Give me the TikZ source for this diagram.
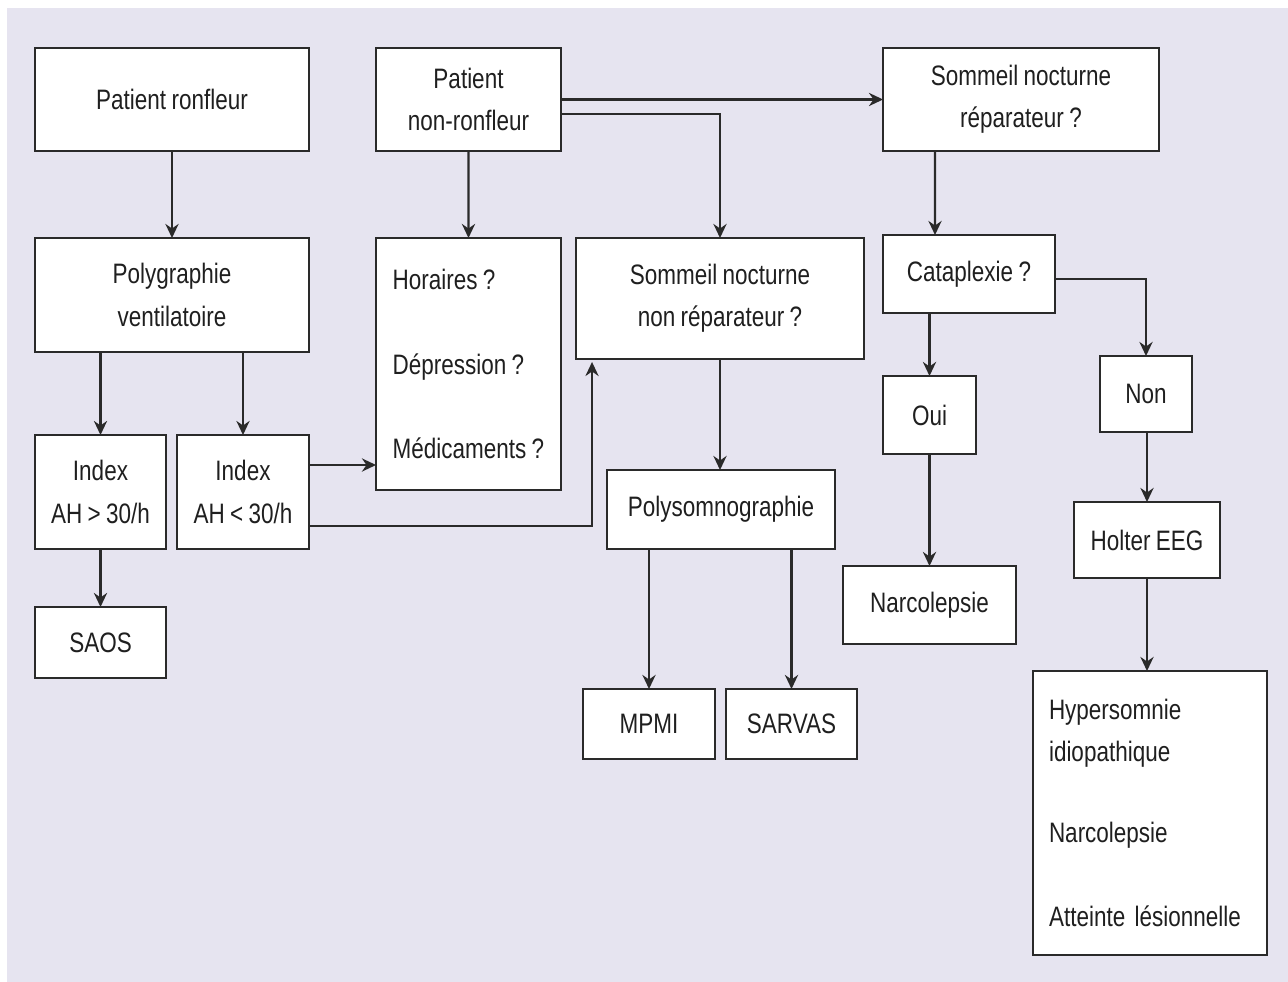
\documentclass[tikz,border=0pt]{standalone}
\usepackage{fontspec}
\setmainfont{Liberation Sans}[FakeStretch=0.8, WordSpace=0.85]
\usetikzlibrary{arrows.meta}
\definecolor{fond}{HTML}{E6E4F0}
\definecolor{trait}{HTML}{2A2A2A}
\tikzset{
  box/.style={draw=trait, line width=1.5pt, fill=white, inner sep=0pt, outer sep=0pt,
    align=center, text=black!88, font=\fontsize{16}{24}\selectfont},
  liste/.style={box, anchor=north west, align=left},
  arr/.style={draw=trait, line width=1.3pt, -{Stealth[length=8pt,width=7.5pt]}}
}
\begin{document}
\begin{tikzpicture}[x=0.02cm, y=-0.02cm]
          \useasboundingbox (0,0) rectangle (1288,982);
          \fill[white] (0,0) rectangle (1288,982);
          \fill[fond] (7,8) rectangle (1288,982);
          % colonne gauche
          \node [box, minimum width=5.48cm, minimum height=2.06cm] (ronf) at (172,99.5) {Patient ronfleur};
          \node [box, minimum width=5.48cm, minimum height=2.28cm] (poly) at (172,295) {Polygraphie\\ventilatoire};
          \node [box, minimum width=2.62cm, minimum height=2.28cm] (idxhi) at (100.5,492) {Index\\AH > 30/h};
          \node [box, minimum width=2.64cm, minimum height=2.28cm] (idxlo) at (243,492) {Index\\AH < 30/h};
          \node [box, minimum width=2.62cm, minimum height=1.42cm] (saos) at (100.5,642.5) {SAOS};
          % non-ronfleur
          \node [box, minimum width=3.70cm, minimum height=2.06cm] (nonronf) at (468.5,99.5) {Patient\\non-ronfleur};
          \node [liste, minimum width=3.70cm, minimum height=5.04cm] (horaires) at (376,238)
            {Horaires ?\\[24pt]Dépression ?\\[24pt]Médicaments ?};
          \node [box, minimum width=5.76cm, minimum height=2.42cm] (nonrep) at (720,298.5) {Sommeil nocturne\\non réparateur ?};
          \node [box, minimum width=4.56cm, minimum height=1.58cm] (psg) at (721,509.5) {Polysomnographie};
          \node [box, minimum width=2.64cm, minimum height=1.40cm] (mpmi) at (649,724) {MPMI};
          \node [box, minimum width=2.62cm, minimum height=1.40cm] (sarvas) at (791.5,724) {SARVAS};
          % sommeil reparateur
          \node [box, minimum width=5.52cm, minimum height=2.06cm] (rep) at (1021,99.5) {Sommeil nocturne\\réparateur ?};
          \node [box, minimum width=3.44cm, minimum height=1.56cm] (catap) at (969,274) {Cataplexie ?};
          \node [box, minimum width=1.86cm, minimum height=1.56cm] (oui) at (929.5,415) {Oui};
          \node [box, minimum width=3.46cm, minimum height=1.56cm] (narco) at (929.5,605) {Narcolepsie};
          \node [box, minimum width=1.84cm, minimum height=1.52cm] (non) at (1146,394) {Non};
          \node [box, minimum width=2.92cm, minimum height=1.52cm] (holter) at (1147,540) {Holter EEG};
          \node [liste, inner xsep=0.32cm, text width=4.04cm, minimum width=4.68cm, minimum height=5.68cm] (hyp) at (1033,671)
            {Hypersomnie\\idiopathique\\[22pt]Narcolepsie\\[24pt]Atteinte lésionnelle};
          % fleches
          \draw [arr] (ronf) -- (poly);
          \draw [arr] (poly.south -| idxhi.north) -- (idxhi.north);
          \draw [arr] (poly.south -| idxlo.north) -- (idxlo.north);
          \draw [arr] (idxhi) -- (saos);
          \draw [arr] ([yshift=0.54cm]idxlo.east) -- ([yshift=0.54cm]idxlo.east -| horaires.west);
          \draw [arr] ([yshift=-0.68cm]idxlo.east) -| ([xshift=0.32cm,yshift=-0.06cm]nonrep.south west);
          \draw [arr] (nonronf) -- (horaires);
          \draw [arr] (nonronf.east) -- (rep.west);
          \draw [arr] ([yshift=-0.29cm]nonronf.east) -| (nonrep.north);
          \draw [arr] (nonrep.south) -- (nonrep.south |- psg.north);
          \draw [arr] (psg.south -| mpmi.north) -- (mpmi.north);
          \draw [arr] (psg.south -| sarvas.north) -- (sarvas.north);
          \draw [arr] ([xshift=1.04cm]rep.south west) -- ([xshift=1.04cm]catap.north west);
          \draw [arr] (catap.south -| oui.north) -- (oui.north);
          \draw [arr] (oui) -- (narco);
          \draw [arr] ([yshift=-0.1cm]catap.east) -| (non.north);
          \draw [arr] (non.south -| holter.north) -- (holter.north);
          \draw [arr] (holter.south) -- (holter.south |- hyp.north);
        \end{tikzpicture}
\end{document}
